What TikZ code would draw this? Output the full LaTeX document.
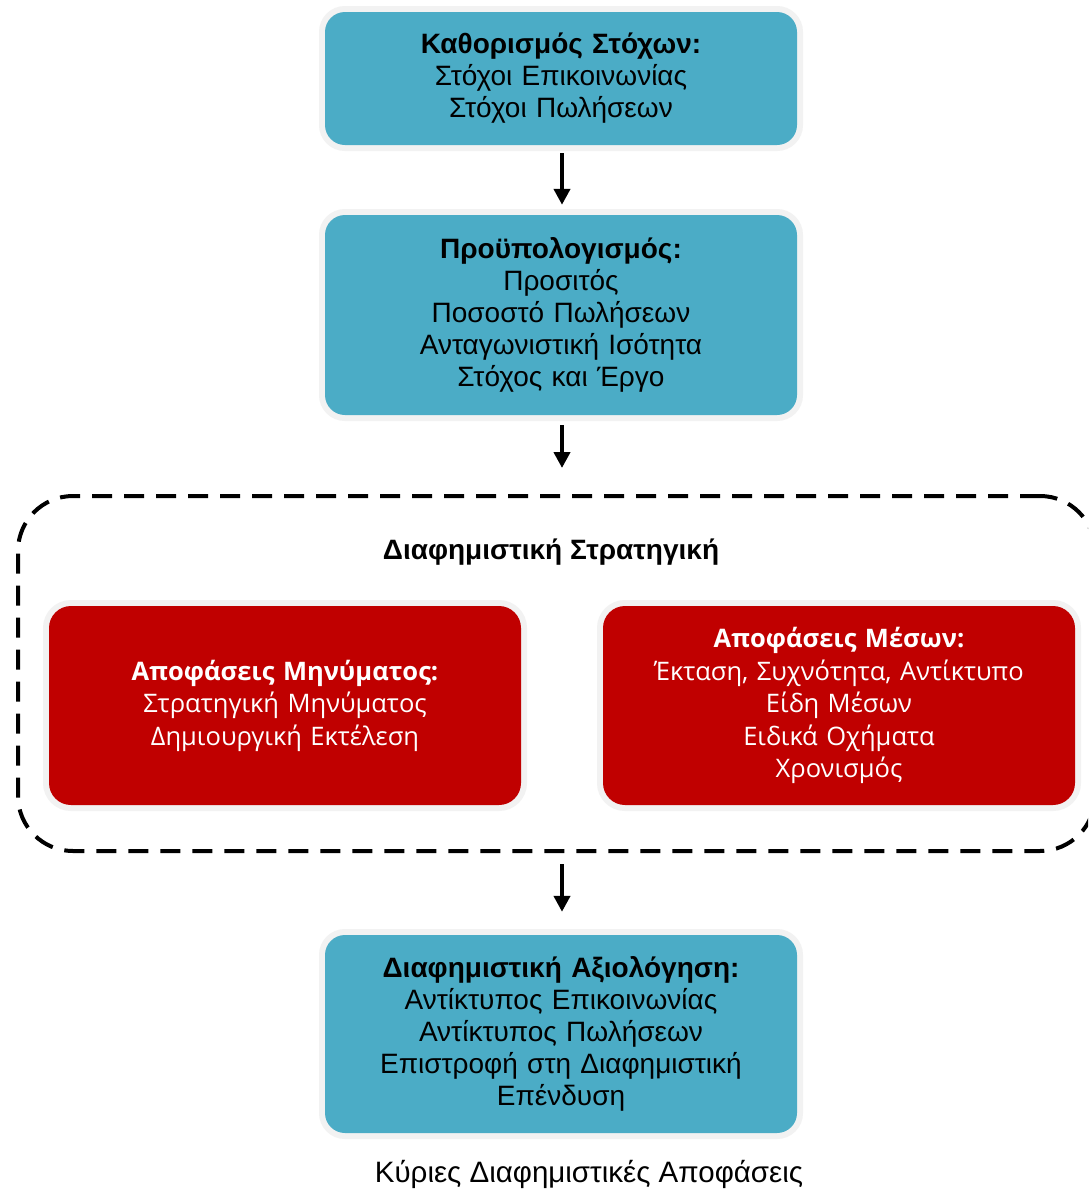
\documentclass[tikz,border=0pt]{standalone}
\usepackage{fontspec}
\setmainfont{Liberation Sans}
\newfontfamily\redfont{Open Sans}
\usetikzlibrary{arrows.meta}
\definecolor{boxblue}{HTML}{4BACC6}
\definecolor{boxred}{HTML}{C00000}
\tikzset{
  glow/.style={preaction={draw=black!5,line width=12pt}},
  bluebox/.style={glow,rectangle,rounded corners=20pt,fill=boxblue,minimum width=472pt,
     text width=460pt,align=center,font=\fontsize{28pt}{32pt}\selectfont,inner sep=0pt},
  redbox/.style={glow,rectangle,rounded corners=22pt,fill=boxred,minimum width=472pt,minimum height=199pt,
     text width=460pt,align=center,text=white,font=\redfont\fontsize{25.5pt}{32.5pt}\selectfont,inner sep=0pt},
  arr/.style={line width=4pt,-{Triangle[width=16pt,length=16pt]}},
  stratbox/.style={draw=black,line width=4pt,dash pattern=on 20pt off 12pt,rounded corners=55pt,
     minimum width=1077pt,minimum height=355pt,inner sep=0pt}
}
\begin{document}
\begin{tikzpicture}[x=1pt,y=-1pt]
\clip (0,0) rectangle (1088,1192);
\fill[white] (0,0) rectangle (1088,1192);
\node[bluebox,minimum height=133pt] (goals) at (561,78.5)
  {\textbf{Καθορισμός Στόχων:}\\Στόχοι Επικοινωνίας\\Στόχοι Πωλήσεων};
\node[bluebox,minimum height=200pt] (budget) at (561,315)
  {\textbf{Προϋπολογισμός:}\\Προσιτός\\Ποσοστό Πωλήσεων\\Ανταγωνιστική Ισότητα\\Στόχος και Έργο};
\node[stratbox] (strat) at (556.5,673.5) {};
\node[font=\bfseries\fontsize{28pt}{30pt}\selectfont] (stratlabel) at (551,552) {Διαφημιστική Στρατηγική};
\node[redbox] (message) at (285,705.5)
  {\textbf{Αποφάσεις Μηνύματος:}\\Στρατηγική Μηνύματος\\Δημιουργική Εκτέλεση};
\node[redbox] (media) at (839,705.5)
  {\textbf{Αποφάσεις Μέσων:}\\Έκταση, Συχνότητα, Αντίκτυπο\\Είδη Μέσων\\Ειδικά Οχήματα\\Χρονισμός};
\node[bluebox,minimum height=198pt] (eval) at (561,1034)
  {\textbf{Διαφημιστική Αξιολόγηση:}\\Αντίκτυπος Επικοινωνίας\\Αντίκτυπος Πωλήσεων\\Επιστροφή στη Διαφημιστική\\Επένδυση};
\node[font=\fontsize{29.5pt}{32pt}\selectfont] (caption) at (589,1174) {Κύριες Διαφημιστικές Αποφάσεις};
\draw[arr] ([yshift=-8pt,xshift=1pt]goals.south) -- ([yshift=10pt,xshift=1pt]budget.north);
\draw[arr] ([yshift=-10pt,xshift=1pt]budget.south) -- ([xshift=1pt,yshift=26pt]budget.south |- strat.north);
\draw[arr] ([xshift=1pt,yshift=-11pt]eval.north |- strat.south) -- ([yshift=23pt,xshift=1pt]eval.north);
\end{tikzpicture}
\end{document}
